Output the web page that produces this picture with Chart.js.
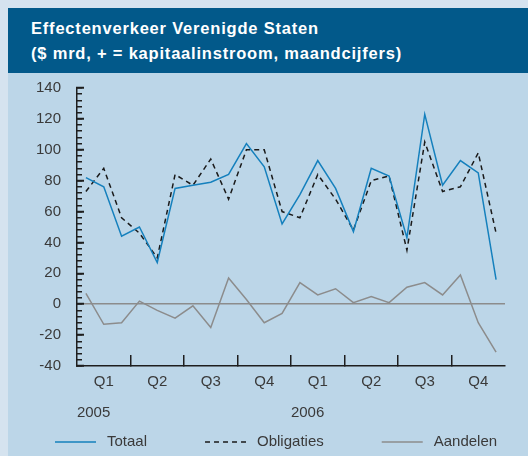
<!DOCTYPE html>
<html>
<head>
<meta charset="utf-8">
<script src="https://cdn.jsdelivr.net/npm/chart.js@4"></script>
<style>
    body { margin: 0; background: #d5e3ef; width: 528px; height: 456px; overflow: hidden; }
    #panel { position: absolute; left: 8px; top: 8px; width: 520px; height: 448px; background: #bcd6e8; }
    #title {
        height: 65px; box-sizing: border-box; padding: 7.5px 0 0 23px;
        background: #02598a; color: #fff;
        font-family: "Liberation Sans", Arial, sans-serif;
        font-weight: bold; font-size: 16.5px; line-height: 25px; letter-spacing: 0.8px; white-space: nowrap;
    }
    #chart { position: absolute; left: 0; top: 65px; }
</style>
</head>
<body>
<div id="panel">
    <div id="title">Effectenverkeer Verenigde Staten<br>($ mrd, + = kapitaalinstroom, maandcijfers)</div>
    <canvas id="chart" width="520" height="383"></canvas>
</div>
<script>
// Monthly data 2005-2006
const months = ['jan 2005', 'feb 2005', 'mrt 2005', 'apr 2005', 'mei 2005', 'jun 2005',
                'jul 2005', 'aug 2005', 'sep 2005', 'okt 2005', 'nov 2005', 'dec 2005',
                'jan 2006', 'feb 2006', 'mrt 2006', 'apr 2006', 'mei 2006', 'jun 2006',
                'jul 2006', 'aug 2006', 'sep 2006', 'okt 2006', 'nov 2006', 'dec 2006'];
const quarterLabels = ['Q1', 'Q2', 'Q3', 'Q4', 'Q1', 'Q2', 'Q3', 'Q4'];
const years = ['2005', '2006'];

const totaal     = [82, 76, 44, 50, 27, 75, 77, 79, 84, 104, 89, 52, 71, 93, 75, 47, 88, 83, 43, 123, 77, 93, 85, 16];
const obligaties = [73, 88, 56, 46, 30, 84, 77, 94, 68, 100, 100, 60, 56, 84, 68, 48, 80, 83, 35, 105, 73, 76, 98, 46];
const aandelen   = [7, -13, -12, 2, -4, -9, -1, -15, 17, 3, -12, -6, 14, 6, 10, 1, 5, 1, 11, 14, 6, 19, -12, -31];

const axisColor = '#1e1e1e';
const labelColor = '#3a3a3a';
const zeroColor = '#8c8c8c';
const tickFont = { family: '"Liberation Sans", Arial, sans-serif', size: 15 };

// Legend drawn as line samples spread along the bottom
const lineLegend = {
    id: 'lineLegend',
    afterDraw(chart) {
        const ctx = chart.ctx;
        const y = chart.height - 14;
        let x = 47;
        ctx.save();
        ctx.font = '15px "Liberation Sans", Arial, sans-serif';
        ctx.textBaseline = 'middle';
        chart.data.datasets.forEach(ds => {
            ctx.strokeStyle = ds.borderColor;
            ctx.lineWidth = ds.borderWidth;
            ctx.setLineDash(ds.borderDash || []);
            ctx.beginPath();
            ctx.moveTo(x, y);
            ctx.lineTo(x + 41, y);
            ctx.stroke();
            ctx.setLineDash([]);
            ctx.fillStyle = labelColor;
            ctx.fillText(ds.label, x + 52, y);
            x += 52 + ctx.measureText(ds.label).width + 58;
        });
        ctx.restore();
    }
};

// tick marks only at the quarter boundaries
function quarterGrid(c) {
    return (c.index % 3 === 0 && c.index > 0 && c.index < months.length) ? axisColor : 'transparent';
}

// keep the tick padding from pushing the plot area down
function fixWidth(w) {
    return s => { s.width = w; s.paddingTop = 0; s.paddingBottom = 0; };
}

new Chart(document.getElementById('chart'), {
    type: 'line',
    data: {
        labels: months,
        datasets: [
            { label: 'Totaal', data: totaal, borderColor: '#1580bd', borderWidth: 1.5 },
            { label: 'Obligaties', data: obligaties, borderColor: '#1a1a1a', borderWidth: 1.5, borderDash: [5, 4] },
            { label: 'Aandelen', data: aandelen, borderColor: '#8c8c8c', borderWidth: 1.5 }
        ]
    },
    options: {
        responsive: false,
        animation: false,
        elements: { point: { radius: 0 }, line: { tension: 0 } },
        layout: { padding: { top: 15, right: 23, bottom: 34, left: 0 } },
        plugins: { legend: { display: false }, tooltip: { enabled: false } },
        scales: {
            x: {
                type: 'category', offset: true, weight: 0,
                afterFit: s => { s.height = 25; },
                border: { color: axisColor, width: 1.5 },
                grid: { offset: true, drawOnChartArea: false, tickLength: -11, lineWidth: 1.5, color: quarterGrid },
                ticks: {
                    autoSkip: false, minRotation: 0, maxRotation: 0, padding: 18,
                    color: labelColor, font: tickFont,
                    callback: (v, i) => i % 3 === 1 ? quarterLabels[(i - 1) / 3] : ''
                }
            },
            x2: {
                type: 'category', labels: months, position: 'bottom', offset: true, weight: 1,
                afterFit: s => { s.height = 31; },
                border: { display: false },
                grid: { display: false, drawTicks: false },
                ticks: {
                    autoSkip: false, minRotation: 0, maxRotation: 0, padding: 13,
                    align: 'start', labelOffset: -9,
                    color: labelColor, font: tickFont,
                    callback: (v, i) => i % 12 === 0 ? years[i / 12] : ''
                }
            },
            y: {
                min: -40, max: 140, weight: 1,
                afterFit: fixWidth(69),
                border: { color: axisColor, width: 1.5 },
                grid: {
                    lineWidth: 1.5, tickWidth: 2, tickLength: -7, tickColor: axisColor,
                    color: c => c.tick && c.tick.value === 0 ? zeroColor : 'transparent'
                },
                ticks: { stepSize: 20, padding: 23, color: labelColor, font: tickFont }
            },
            y2: {
                position: 'left', min: -40, max: 140, weight: 0,
                afterFit: fixWidth(0),
                border: { display: false },
                grid: { drawOnChartArea: false, tickLength: -5, lineWidth: 1.5, color: axisColor },
                ticks: { stepSize: 4, display: false }
            }
        }
    },
    plugins: [lineLegend]
});
</script>
</body>
</html>
